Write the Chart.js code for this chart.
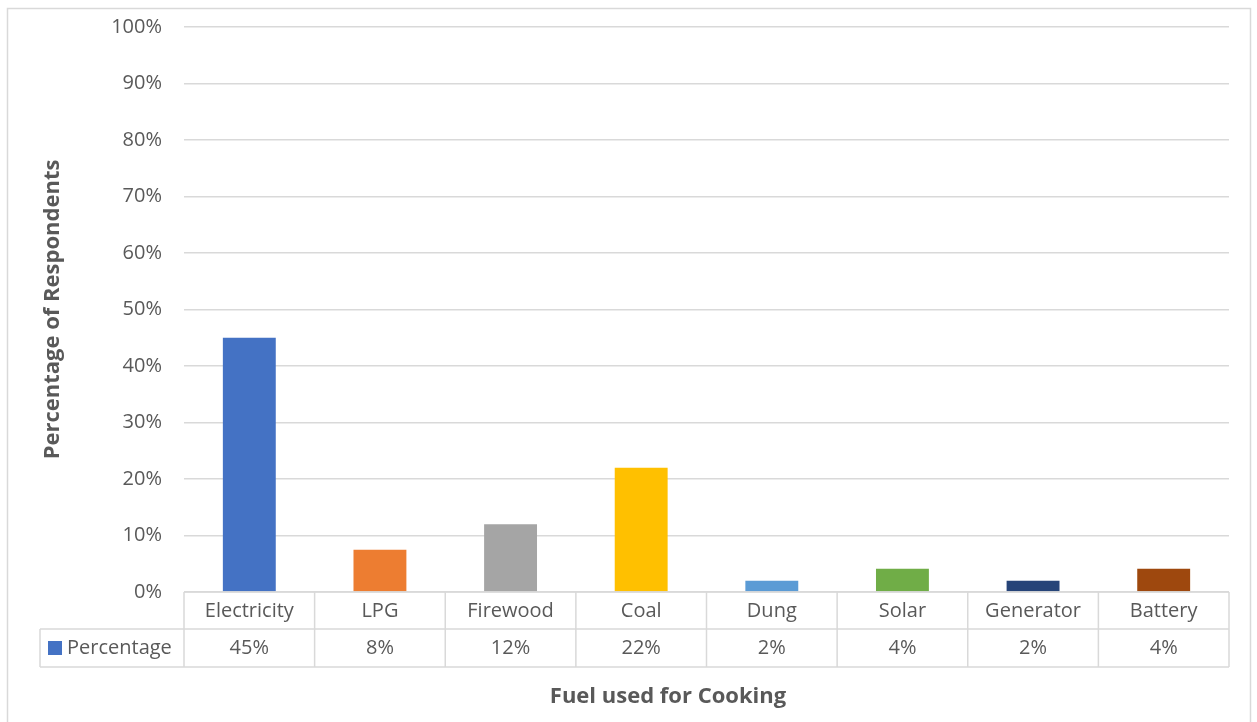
<!DOCTYPE html>
<html>
<head>
<meta charset="utf-8">
<script src="https://cdn.jsdelivr.net/npm/chart.js@4"></script>
<style>
  html, body { margin: 0; padding: 0; background: #ffffff; }
  #wrap { width: 1257px; height: 722px; position: relative; }
</style>
</head>
<body>
<div id="wrap"><canvas id="fuelChart"></canvas></div>
<script>
// ---- data ----
const categories = ["Electricity", "LPG", "Firewood", "Coal", "Dung", "Solar", "Generator", "Battery"];
const percentages = [45, 7.5, 12, 22, 2, 4.1, 2, 4.1];
const tableLabels = ["45%", "8%", "12%", "22%", "2%", "4%", "2%", "4%"];
const barColors = ["#4472C4", "#ED7D31", "#A5A5A5", "#FFC000", "#5B9BD5", "#70AD47", "#264478", "#9E480E"];
const seriesName = "Percentage";
const xTitle = "Fuel used for Cooking";

const GRID = "#d9d9d9";
const TEXT = "#595959";
const FONT = "'Open Sans', sans-serif";
const TICK_SIZE = 20;

Chart.defaults.font.family = FONT;
Chart.defaults.color = TEXT;

// frame around the whole chart + data table under the x axis
const dataTable = {
    id: "dataTable",
    beforeDraw(chart) {
        const ctx = chart.ctx;
        ctx.save();
        ctx.strokeStyle = GRID;
        ctx.lineWidth = 1.5;
        ctx.strokeRect(7.5, 8.5, 1243, 730);
        ctx.restore();
    },
    afterDraw(chart) {
        const ctx = chart.ctx;
        const area = chart.chartArea;
        const x = chart.scales.x;
        const n = categories.length;
        const w = (area.right - area.left) / n;
        const row1 = area.bottom;
        const row2 = row1 + 37;
        const row3 = row2 + 38;
        const legLeft = 40;

        ctx.save();
        ctx.strokeStyle = GRID;
        ctx.lineWidth = 1.5;
        ctx.beginPath();
        ctx.moveTo(area.left, row1); ctx.lineTo(area.right, row1);
        ctx.moveTo(legLeft, row2); ctx.lineTo(area.right, row2);
        ctx.moveTo(legLeft, row3); ctx.lineTo(area.right, row3);
        for (let i = 0; i <= n; i++) {
            const px = area.left + i * w;
            ctx.moveTo(px, row1); ctx.lineTo(px, row3);
        }
        ctx.moveTo(legLeft, row2); ctx.lineTo(legLeft, row3);
        ctx.stroke();

        // legend key
        ctx.fillStyle = barColors[0];
        ctx.fillRect(48, row2 + 12, 14, 14);
        ctx.fillStyle = TEXT;
        ctx.font = TICK_SIZE + "px " + FONT;
        ctx.textBaseline = "middle";
        ctx.textAlign = "left";
        ctx.fillText(seriesName, 67, (row2 + row3) / 2);

        // values row
        ctx.textAlign = "center";
        tableLabels.forEach((t, i) => {
            ctx.fillText(t, x.getPixelForValue(i), (row2 + row3) / 2);
        });

        // x axis title (Excel centres it on the whole table, not the plot)
        ctx.font = "bold 22px " + FONT;
        ctx.fillText(xTitle, 668, 697);
        ctx.restore();
    }
};

new Chart(document.getElementById("fuelChart"), {
    type: "bar",
    data: {
        labels: categories,
        datasets: [{
            label: seriesName,
            data: percentages,
            backgroundColor: barColors,
            categoryPercentage: 1,
            barPercentage: 0.405
        }]
    },
    options: {
        responsive: true,
        maintainAspectRatio: false,
        animation: false,
        layout: { padding: { left: 8, right: 28, top: 27, bottom: 0 } },
        plugins: {
            legend: { display: false },
            tooltip: { enabled: false }
        },
        scales: {
            x: {
                grid: { display: false, drawTicks: false },
                border: { display: false },
                ticks: { font: { size: TICK_SIZE }, color: TEXT, padding: 7 },
                afterFit(s) { s.height = 130; }
            },
            y: {
                min: 0,
                max: 100,
                grid: { color: GRID, lineWidth: 1.5, drawTicks: false },
                border: { display: false },
                ticks: {
                    stepSize: 10,
                    padding: 22,
                    font: { size: TICK_SIZE },
                    color: TEXT,
                    callback: v => v + "%"
                },
                title: {
                    display: true,
                    text: "Percentage of Respondents",
                    font: { size: 22, weight: "bold" },
                    color: TEXT,
                    padding: { top: 32, bottom: 0 }
                },
                afterFit(s) {
                    s.width = 176;
                    s.paddingTop = 0;
                    s.paddingBottom = 0;
                }
            }
        }
    },
    plugins: [dataTable]
});
</script>
</body>
</html>
